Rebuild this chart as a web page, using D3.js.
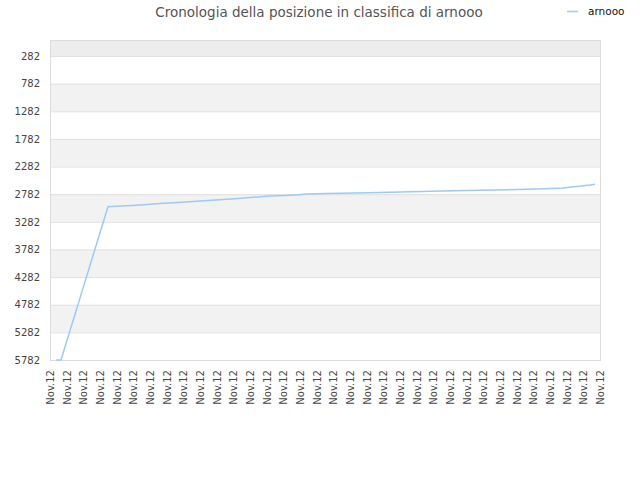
<!DOCTYPE html>
<html>
<head>
<meta charset="utf-8">
<script src="https://cdn.jsdelivr.net/npm/d3@7"></script>
<style>
  body { margin: 0; background: #fff; }
  text { font-family: "DejaVu Sans", sans-serif; }
</style>
</head>
<body>
<svg id="chart"></svg>
<script>
// dati
const title = 'Cronologia della posizione in classifica di arnooo';
const seriesName = 'arnooo';
const times = [
  '2012-11-01 07:12', '2012-11-01 13:12', '2012-11-03 21:36', '2012-11-04 08:24',
  '2012-11-05 02:24', '2012-11-05 20:24', '2012-11-06 15:36', '2012-11-07 09:36',
  '2012-11-08 03:36', '2012-11-08 21:36', '2012-11-09 15:36', '2012-11-10 09:36',
  '2012-11-11 03:36', '2012-11-12 00:00', '2012-11-12 16:48', '2012-11-13 10:48',
  '2012-11-13 19:12', '2012-11-14 20:24', '2012-11-16 22:48', '2012-11-19 01:12',
  '2012-11-21 03:36', '2012-11-23 06:00', '2012-11-25 08:24', '2012-11-26 09:36',
  '2012-11-26 15:36', '2012-11-27 02:24', '2012-11-27 13:12', '2012-11-28 00:00',
  '2012-11-28 06:00'
];
const ranks = [
  5782, 5782, 3008, 3000,
  2985, 2967, 2948, 2930,
  2912, 2894, 2876, 2858,
  2838, 2815, 2805, 2790,
  2778, 2770, 2755, 2737,
  2720, 2706, 2688, 2675,
  2670, 2652, 2634, 2616,
  2600
];
const yTicks = [282, 782, 1282, 1782, 2282, 2782, 3282, 3782, 4282, 4782, 5282, 5782];
const yTop = -8;
const xStart = '2012-11-01 00:00';
const xTickCount = 34;   // una tacca ogni 20 ore
const xTickHours = 20;

const width = 640, height = 480;
const m = { left: 50, right: 600, top: 40, bottom: 360 };

const parse = d3.timeParse('%Y-%m-%d %H:%M');
const start = parse(xStart);
const xTickValues = d3.range(xTickCount).map(i => d3.timeHour.offset(start, i * xTickHours));
const data = times.map((t, i) => ({ t: parse(t), r: ranks[i] }));

const svg = d3.select('#chart').attr('width', width).attr('height', height);

const x = d3.scaleTime()
  .domain([start, xTickValues[xTickValues.length - 1]])
  .range([m.left, m.right]);
const y = d3.scaleLinear()
  .domain([yTop, d3.max(yTicks)])
  .range([m.top, m.bottom]);

// bande alternate
const bands = [[yTop, yTicks[0]]].concat(d3.pairs(yTicks));
svg.append('g').selectAll('rect')
  .data(bands)
  .enter().append('rect')
  .attr('x', m.left)
  .attr('width', m.right - m.left)
  .attr('y', d => y(d[0]))
  .attr('height', d => y(d[1]) - y(d[0]))
  .attr('fill', (d, i) => i === 0 ? '#ededed' : (i % 2 === 0 ? '#f2f2f2' : '#ffffff'));

// griglia
svg.append('g').selectAll('line')
  .data(yTicks)
  .enter().append('line')
  .attr('x1', m.left).attr('x2', m.right)
  .attr('y1', d => y(d) + 0.5).attr('y2', d => y(d) + 0.5)
  .attr('stroke', '#e0e0e0');

// bordo
svg.append('rect')
  .attr('x', m.left + 0.5).attr('y', m.top + 0.5)
  .attr('width', m.right - m.left).attr('height', m.bottom - m.top)
  .attr('fill', 'none')
  .attr('stroke', '#dcdcdc');

// asse y
const yAxis = svg.append('g')
  .attr('transform', `translate(${m.left}, 0)`)
  .call(d3.axisLeft(y).tickValues(yTicks).tickSize(0).tickPadding(10).tickFormat(d3.format('d')));
yAxis.select('.domain').remove();
yAxis.selectAll('text').attr('font-size', 10).attr('fill', '#444').attr('font-family', 'DejaVu Sans');

// asse x
const xAxis = svg.append('g')
  .attr('transform', `translate(0, ${m.bottom})`)
  .call(d3.axisBottom(x).tickValues(xTickValues).tickSize(0).tickFormat(d3.timeFormat('%b.%y')));
xAxis.select('.domain').remove();
xAxis.selectAll('text')
  .attr('font-size', 10).attr('fill', '#444').attr('font-family', 'DejaVu Sans')
  .attr('text-anchor', 'end')
  .attr('transform', 'rotate(-90)')
  .attr('x', -10).attr('y', 0).attr('dy', '0.35em');

// linea
svg.append('path')
  .datum(data)
  .attr('fill', 'none')
  .attr('stroke', '#9dc9f4')
  .attr('stroke-width', 1.5)
  .attr('d', d3.line().x(d => x(d.t)).y(d => y(d.r)));

// titolo
svg.append('text')
  .attr('x', 319).attr('y', 17)
  .attr('text-anchor', 'middle')
  .attr('font-size', 13.5)
  .attr('fill', '#555')
  .text(title);

// legenda
svg.append('line')
  .attr('x1', 567).attr('x2', 578)
  .attr('y1', 11.5).attr('y2', 11.5)
  .attr('stroke', '#9dc9f4').attr('stroke-width', 1.5);
svg.append('text')
  .attr('x', 588).attr('y', 15)
  .attr('font-size', 10.5)
  .attr('fill', '#111')
  .text(seriesName);
</script>
</body>
</html>
